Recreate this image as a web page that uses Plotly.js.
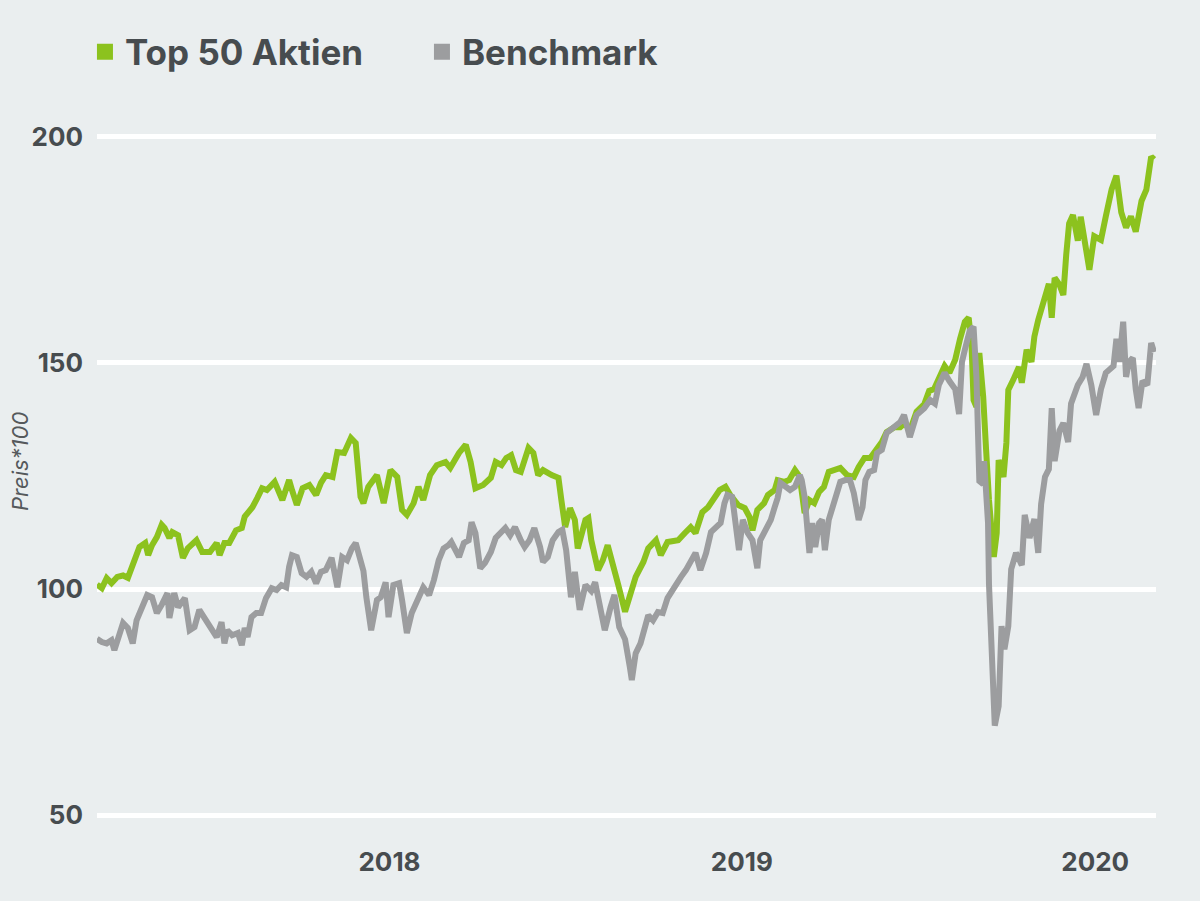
<!DOCTYPE html>
<html>
<head>
<meta charset="utf-8">
<script src="https://cdn.plot.ly/plotly-3.0.1.min.js"></script>
<style>
html,body{margin:0;padding:0;background:#eaeeef;}
#chart{width:1200px;height:901px;}
</style>
</head>
<body>
<div id="chart"></div>
<script>
// ---- data ----
const seriesNames = ['Top 50 Aktien', 'Benchmark'];

const top50Dates = ['2017-09-01','2017-09-06','2017-09-11','2017-09-16','2017-09-22','2017-09-28','2017-10-03','2017-10-08','2017-10-15','2017-10-21','2017-10-24','2017-10-28','2017-11-02','2017-11-07','2017-11-10','2017-11-15','2017-11-18','2017-11-24','2017-11-29','2017-12-04','2017-12-13','2017-12-19','2017-12-27',
'2018-01-03','2018-01-06','2018-01-11','2018-01-16','2018-01-23','2018-01-29','2018-02-01','2018-02-09','2018-02-14','2018-02-19','2018-02-24','2018-03-04','2018-03-12','2018-03-19','2018-03-22','2018-03-27','2018-04-02','2018-04-09','2018-04-16','2018-04-21','2018-04-26','2018-05-03','2018-05-08','2018-05-15','2018-05-22','2018-05-27','2018-06-01','2018-06-04','2018-06-09','2018-06-18','2018-06-25','2018-07-02','2018-07-09','2018-07-14','2018-07-19','2018-07-26','2018-07-31','2018-08-05','2018-08-12','2018-08-19','2018-08-28','2018-09-02','2018-09-11','2018-09-18','2018-09-23','2018-09-28','2018-10-06','2018-10-14','2018-10-19','2018-10-25','2018-10-30','2018-11-04','2018-11-09','2018-11-14','2018-11-22','2018-11-27','2018-12-02','2018-12-07','2018-12-16','2018-12-23','2018-12-26','2018-12-30',
'2019-01-04','2019-01-09','2019-01-12','2019-01-20','2019-01-23','2019-01-26','2019-02-02','2019-02-07','2019-02-12','2019-02-18','2019-02-23','2019-03-02','2019-03-07','2019-03-13','2019-03-21','2019-03-26','2019-04-03','2019-04-08','2019-04-15','2019-04-26','2019-05-03','2019-05-09','2019-05-14','2019-05-21','2019-05-27','2019-06-03','2019-06-08','2019-06-14','2019-06-19','2019-06-27','2019-07-04','2019-07-09','2019-07-12','2019-07-17','2019-07-24','2019-07-28','2019-08-04','2019-08-07','2019-08-14','2019-08-19','2019-08-25','2019-08-30','2019-09-04','2019-09-09','2019-09-14','2019-09-19','2019-09-24','2019-09-29','2019-10-06','2019-10-11','2019-10-18','2019-10-25','2019-10-30','2019-11-05','2019-11-11','2019-11-18','2019-11-23','2019-11-28','2019-12-06','2019-12-12','2019-12-17','2019-12-22','2019-12-29',
'2020-01-06','2020-01-11','2020-01-16','2020-01-22','2020-01-27','2020-02-01','2020-02-07','2020-02-12','2020-02-17','2020-02-21','2020-02-24','2020-02-26','2020-02-29','2020-03-03','2020-03-07','2020-03-10','2020-03-13','2020-03-18','2020-03-21','2020-03-23','2020-03-28','2020-03-31','2020-04-02','2020-04-07','2020-04-13','2020-04-16','2020-04-21','2020-04-26','2020-04-29','2020-05-03','2020-05-08','2020-05-14','2020-05-17','2020-05-20','2020-05-25','2020-05-29','2020-06-01','2020-06-04','2020-06-08','2020-06-13','2020-06-16','2020-06-22','2020-06-25','2020-06-30','2020-07-07','2020-07-12','2020-07-18','2020-07-23','2020-07-28','2020-08-02','2020-08-07','2020-08-12','2020-08-18','2020-08-23','2020-08-28','2020-08-31'];

const top50Values = [101,100.2,102.4,101.3,102.7,103,102.5,105.3,109.3,110.2,107.5,109.7,111.5,114.2,113.5,111.3,112.6,111.9,106.9,109,110.8,108.2,108.2,
110.2,107.5,110.2,110.2,113,113.5,116,118.1,120.1,122.3,121.9,123.7,119.7,124.1,121.9,118.6,122.3,123,120.8,123.5,125.2,124.8,130.3,130.1,133.4,132.3,120.4,119,122.6,125.2,119,126.3,124.8,117.5,116.4,119,122.6,119.7,125.2,127.4,128.1,126.8,130.1,131.9,128.1,122.3,123,124.6,128.1,127.4,129,129.6,126.3,125.9,131.2,130.1,125.2,126.3,125.2,124.6,119.7,113.7,
117.9,115.3,109,115.3,115.7,110.8,104.2,106.4,109.7,104.2,100.9,95,99.1,102.7,106,109,110.8,107.5,110.4,110.8,112.4,113.7,112.4,117,118.1,120.1,121.9,122.6,120.8,118.6,117.9,115.9,113,117.5,119,120.8,121.9,124.1,123.7,124.1,126.3,124.8,116.8,119.7,119,121.5,122.6,125.9,126.3,126.8,125.2,124.8,127,129,129,130.8,132.5,134.7,135.8,135.8,136.7,135,139.2,
140.9,143.8,144.2,147.3,149.3,147.8,150.7,155.3,159.1,160,153.5,141.8,140.3,152.2,142.5,130.8,119.7,107.1,112.4,128.5,124.8,132.3,144,146.2,149.1,145.6,152.9,150.2,155.8,159.5,162.8,167.5,160,168.8,167.3,165,173.9,180.8,182.7,177,182.3,175,170.6,178,177.2,182.4,188.3,191.4,183.3,179.9,182.4,179,185.8,188.3,195.6,195];

const benchDates = ['2017-09-01','2017-09-06','2017-09-11','2017-09-16','2017-09-19','2017-09-24','2017-09-28','2017-10-03','2017-10-08','2017-10-12','2017-10-17','2017-10-23','2017-10-28','2017-11-02','2017-11-07','2017-11-13','2017-11-15','2017-11-20','2017-11-24','2017-12-01','2017-12-06','2017-12-11','2017-12-16','2017-12-21','2017-12-27',
'2018-01-03','2018-01-08','2018-01-11','2018-01-14','2018-01-19','2018-01-25','2018-01-29','2018-02-01','2018-02-04','2018-02-08','2018-02-13','2018-02-18','2018-02-23','2018-03-01','2018-03-06','2018-03-11','2018-03-16','2018-03-19','2018-03-22','2018-03-27','2018-04-01','2018-04-06','2018-04-11','2018-04-16','2018-04-21','2018-04-26','2018-05-02','2018-05-08','2018-05-13','2018-05-18','2018-05-23','2018-05-27','2018-06-01','2018-06-04','2018-06-07','2018-06-09','2018-06-12','2018-06-18','2018-06-22','2018-06-27','2018-06-30','2018-07-05','2018-07-11','2018-07-14','2018-07-19','2018-07-24','2018-07-29','2018-08-05','2018-08-11','2018-08-16','2018-08-21','2018-08-26','2018-08-31','2018-09-03','2018-09-11','2018-09-16','2018-09-21','2018-09-24','2018-09-28','2018-10-03','2018-10-08','2018-10-14','2018-10-19','2018-10-24','2018-10-29','2018-11-03','2018-11-08','2018-11-14','2018-11-18','2018-11-23','2018-11-28','2018-12-04','2018-12-07','2018-12-12','2018-12-17','2018-12-23','2018-12-27','2018-12-31',
'2019-01-02','2019-01-05','2019-01-09','2019-01-14','2019-01-20','2019-01-26','2019-01-30','2019-02-04','2019-02-09','2019-02-15','2019-02-19','2019-02-24','2019-03-02','2019-03-07','2019-03-09','2019-03-13','2019-03-18','2019-03-26','2019-03-31','2019-04-05','2019-04-10','2019-04-15','2019-04-23','2019-04-29','2019-05-04','2019-05-09','2019-05-14','2019-05-19','2019-05-25','2019-05-30','2019-06-04','2019-06-09','2019-06-13','2019-06-16','2019-06-21','2019-06-24','2019-06-28','2019-07-02','2019-07-07','2019-07-12','2019-07-17','2019-07-20','2019-07-25','2019-07-31','2019-08-04','2019-08-07','2019-08-10','2019-08-15','2019-08-20','2019-08-25','2019-08-30','2019-09-01','2019-09-04','2019-09-09','2019-09-12','2019-09-15','2019-09-19','2019-09-22','2019-09-25','2019-09-29','2019-10-02','2019-10-06','2019-10-11','2019-10-16','2019-10-21','2019-10-25','2019-10-30','2019-11-03','2019-11-06','2019-11-10','2019-11-15','2019-11-18','2019-11-23','2019-11-28','2019-12-06','2019-12-12','2019-12-16','2019-12-22','2019-12-29',
'2020-01-06','2020-01-12','2020-01-17','2020-01-21','2020-01-27','2020-02-01','2020-02-07','2020-02-11','2020-02-14','2020-02-17','2020-02-22','2020-02-26','2020-02-29','2020-03-03','2020-03-07','2020-03-08','2020-03-12','2020-03-13','2020-03-15','2020-03-18','2020-03-19','2020-03-23','2020-03-26','2020-03-29','2020-04-02','2020-04-05','2020-04-10','2020-04-16','2020-04-19','2020-04-24','2020-04-29','2020-05-03','2020-05-06','2020-05-10','2020-05-14','2020-05-17','2020-05-20','2020-05-25','2020-05-29','2020-06-03','2020-06-06','2020-06-13','2020-06-18','2020-06-22','2020-06-27','2020-07-02','2020-07-07','2020-07-12','2020-07-20','2020-07-23','2020-07-26','2020-07-30','2020-08-02','2020-08-05','2020-08-09','2020-08-12','2020-08-15','2020-08-19','2020-08-24','2020-08-28','2020-08-31'];

const benchValues = [89,88.3,88,88.7,86.5,90.3,92.5,91.4,88,93.1,95.4,98.7,98.2,94.7,96.5,99.1,93.6,99.1,96,98,90.9,91.6,95.4,93.8,91.4,
89.4,92.7,88,90.9,89.8,90.3,87.6,91.4,89.4,93.8,94.7,94.7,98,100.2,99.8,100.9,100.4,104.9,107.5,107.1,103.5,102.7,103.8,101.3,103.8,104.2,106.9,100.4,107.1,106.4,109,110.2,106.4,104,98.2,94.7,90.9,97.6,98.2,101.5,93.8,100.9,101.3,97.6,90.3,94.7,96.9,100.4,98.7,102,106.4,109,109.7,110.4,107.1,110.2,110.8,114.8,112.4,104.6,105.8,108.2,111.3,112.6,113.5,111.9,113.7,110.8,109.3,110.8,113.5,109.3,106,107.1,110.8,112.6,113.1,108.6,
104.9,98.2,103.8,95.4,100.9,99.6,101.5,96.9,90.9,96,98.7,91.6,88.9,82.7,79.9,85.8,88,94.2,93.1,94.9,94.7,98,100.9,102.7,104.2,106,108,104.2,108,112.6,113.7,114.6,119,120.8,120.4,115.9,108.6,115.3,112.4,110.8,104.6,110.8,112.6,115.3,118.1,120.1,123.5,122.6,121.9,122.6,125.2,124.1,120.4,108,114.6,109.3,114.6,115.3,108.6,115.3,117.5,120.8,123.7,124.1,124.1,121.2,115.3,118.1,124.1,125.9,126.3,130.1,130.8,134.5,135.8,136.9,138.5,133.6,138.5,
140,141.8,141,145.1,147.8,146,144.2,138.7,150.2,152.9,157.1,158,146.9,123.9,123.2,128.3,114.6,101.1,90.3,80,69.8,74.1,91.8,86.7,91.8,104.4,108,105.3,116.4,111.3,115.5,108,118.8,124.8,126.5,140,128.3,135,136.7,132.5,141,145.1,146.9,149.8,145.1,138.5,144.2,147.8,149.3,155.3,150.2,159.1,146.9,150.2,151.1,144.2,140,146,145.1,154.4,152.4];

const yearTickDates = ['2018-07-01', '2019-07-01', '2020-07-01'];
const yearTickLabels = ['2018', '2019', '2020'];
const yTickValues = [50, 100, 150, 200];
const yAxisTitle = 'Preis*100';

// ---- style ----
const GREEN = '#8cc21e';
const GREY = '#9c9d9f';
const BG = '#eaeeef';
const TEXT = '#474c4f';
const FONT = 'Inter, Roboto, "Open Sans", sans-serif';

const traces = [
  {x: top50Dates, y: top50Values, type: 'scatter', mode: 'lines', name: seriesNames[0],
   line: {color: GREEN, width: 6, shape: 'linear'}, showlegend: false, hoverinfo: 'skip'},
  {x: benchDates, y: benchValues, type: 'scatter', mode: 'lines', name: seriesNames[1],
   line: {color: GREY, width: 6, shape: 'linear'}, showlegend: false, hoverinfo: 'skip'},
  // legend entries (square swatches)
  {x: [null], y: [null], type: 'scatter', mode: 'markers', name: seriesNames[0],
   marker: {symbol: 'square', size: 16, color: GREEN}, showlegend: true},
  {x: [null], y: [null], type: 'scatter', mode: 'markers', name: seriesNames[1],
   marker: {symbol: 'square', size: 16, color: GREY}, showlegend: true}
];

const tickFont = {family: FONT, size: 26, color: TEXT, weight: 700};

const layout = {
  width: 1200, height: 901,
  paper_bgcolor: BG, plot_bgcolor: BG,
  margin: {l: 97, r: 44, t: 134, b: 83},
  font: {family: FONT, color: TEXT},
  showlegend: true,
  legend: {
    orientation: 'h', xref: 'container', yref: 'container',
    x: 0.0708, y: 0.975, xanchor: 'left', yanchor: 'top',
    font: {family: FONT, size: 35, color: TEXT, weight: 700},
    bgcolor: 'rgba(0,0,0,0)', itemsizing: 'trace', traceorder: 'normal',
    entrywidth: 292
  },
  xaxis: {
    type: 'date', range: ['2017-09-01', '2020-09-02'],
    tickmode: 'array', tickvals: yearTickDates, ticktext: yearTickLabels,
    showgrid: false, zeroline: false, showline: false, ticks: '',
    tickfont: tickFont, ticklabelstandoff: 26, fixedrange: true
  },
  yaxis: {
    range: [49.4, 200.6], tickmode: 'array', tickvals: yTickValues,
    showgrid: true, gridcolor: '#ffffff', gridwidth: 5,
    zeroline: false, showline: false, ticks: '',
    tickfont: tickFont, ticklabelstandoff: 13, fixedrange: true
  },
  annotations: [{
    text: yAxisTitle, xref: 'paper', yref: 'paper', x: 0, y: 0.5,
    xanchor: 'center', yanchor: 'middle', xshift: -77, yshift: 14, textangle: -90,
    showarrow: false, font: {family: FONT, size: 22, color: '#55595c', style: 'italic'}
  }]
};

Plotly.newPlot('chart', traces, layout, {displayModeBar: false, staticPlot: true});
</script>
</body>
</html>
